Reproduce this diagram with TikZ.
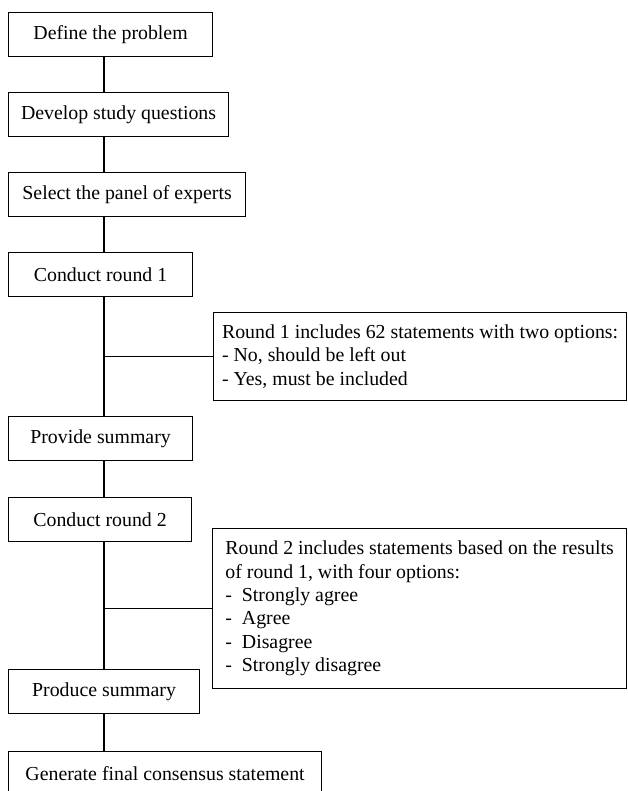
\documentclass[tikz,border=0pt]{standalone}
\usepackage{fontspec}
\setmainfont{Liberation Serif}

\begin{document}
\begin{tikzpicture}[x=0.6pt,y=-0.6pt,line width=0.7pt,
  font=\fontsize{11.9}{14}\selectfont,
  stage/.style={draw,anchor=north west,minimum height=26.4pt,inner sep=0pt},
  note/.style={draw,anchor=north west,align=left,inner xsep=0pt}]
\useasboundingbox (0,0) rectangle (627,791);

\node[stage,minimum width=122.4pt]   (define)   at (8,12)  {Define the problem};
\node[stage,minimum width=132pt]     (develop)  at (8,92)  {Develop study questions};
\node[stage,minimum width=142.2pt]   (select)   at (8,172) {Select the panel of experts};
\node[stage,minimum width=110.4pt]   (round1)   at (8,252) {Conduct round 1};
\node[stage,minimum width=110.4pt]   (provide)  at (8,416) {Provide summary};
\node[stage,minimum width=109.8pt]   (round2)   at (8,497) {Conduct round 2};
\node[stage,minimum width=114.6pt]   (produce)  at (8,669) {Produce summary};
\node[stage,minimum width=187.8pt]   (final)    at (8,751) {Generate final consensus statement};

\node[note,minimum width=247.8pt,minimum height=52.8pt] (r1note) at (213,312)
  {Round 1 includes 62 statements with two options:\\
   - No, should be left out\\
   - Yes, must be included};
\node[note,minimum width=248.4pt,minimum height=96pt] (r2note) at (212,528)
  {Round 2 includes statements based on the results\\
   of round 1, with four options:\\
   -\enspace Strongly agree\\
   -\enspace Agree\\
   -\enspace Disagree\\
   -\enspace Strongly disagree};

\coordinate (trunk) at (104,0);

\draw (trunk |- define.south)  -- (trunk |- develop.north)
      (trunk |- develop.south) -- (trunk |- select.north)
      (trunk |- select.south)  -- (trunk |- round1.north)
      (trunk |- round1.south)  -- (trunk |- provide.north)
      (trunk |- provide.south) -- (trunk |- round2.north)
      (trunk |- round2.south)  -- (trunk |- produce.north)
      (trunk |- produce.south) -- (trunk |- final.north);

\draw (trunk |- r1note.west) -- (r1note.west)
      (trunk |- r2note.west) -- (r2note.west);

\end{tikzpicture}
\end{document}
